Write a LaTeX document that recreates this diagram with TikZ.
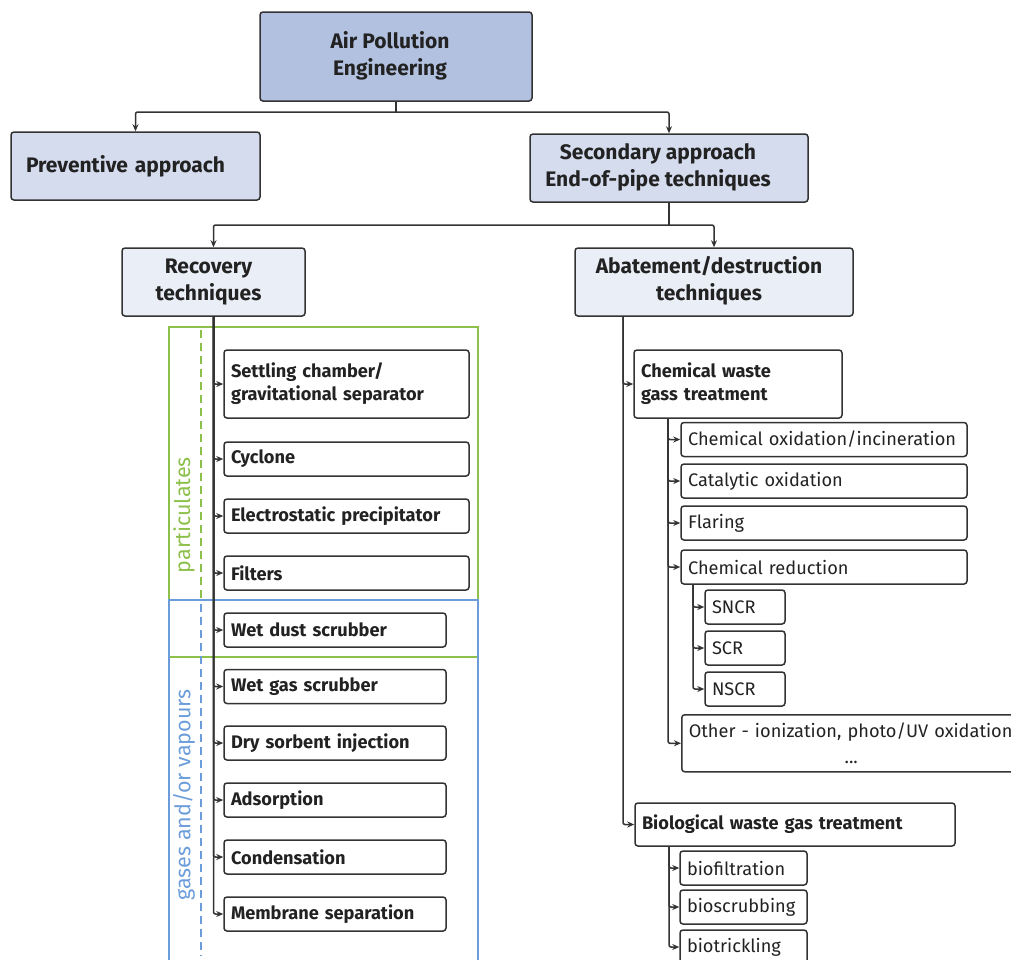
\documentclass[tikz,border=0pt]{standalone}
\usepackage{fontspec}
\setmainfont{Fira Sans}
\usetikzlibrary{arrows.meta,calc}
\definecolor{lineC}{HTML}{333333}
\definecolor{topC}{HTML}{B3C1E1}
\definecolor{midC}{HTML}{D5DCEE}
\definecolor{lowC}{HTML}{EAEEF7}
\definecolor{grn}{HTML}{8DC04B}
\definecolor{blu}{HTML}{6C9DDB}
\definecolor{txt}{HTML}{222222}
\newcommand{\twol}[3]{\begin{tabular}{@{}c@{}}#1\\#2\end{tabular}\hspace*{#3}}
\tikzset{
  box/.style={draw=lineC, line width=1.5pt, rounded corners=3pt, text=txt, inner xsep=7pt, inner ysep=0pt},
  head/.style={box, font=\fontsize{21}{27}\selectfont\bfseries, minimum height=68pt},
  itemb/.style={box, font=\fontsize{18.2}{23}\selectfont\bfseries, align=left, minimum height=34pt},
  itemr/.style={box, font=\fontsize{18.2}{26}\selectfont, align=left, minimum height=34pt},
  arr/.style={draw=lineC, line width=1.5pt, rounded corners=2pt, -{Stealth[length=7pt,width=6pt]}},
  ln/.style={draw=lineC, line width=1.5pt},
  side/.style={font=\fontsize{21.5}{24}\selectfont, rotate=90}
}
\begin{document}
\begin{tikzpicture}[x=1pt,y=-1pt]
\useasboundingbox (0,0) rectangle (1011,959);
\clip (0,0) rectangle (1011,959);
% group frames
\draw[grn, line width=1.3pt] (169,327) rectangle (478,657);
\draw[blu, line width=1.3pt] (169,600) rectangle (478,980);
\draw[grn, line width=1.3pt, dash pattern=on 8pt off 5pt] (201,330) -- (201,600);
\draw[blu, line width=1.3pt, dash pattern=on 8pt off 5pt] (201,604) -- (201,956);
\node[side, text=grn] (lpart) at (184,515) {particulates};
\node[side, text=blu] (lgas) at (184,795) {gases and/or vapours};
% top levels
\node[head, fill=topC, minimum width=272pt, minimum height=89pt] (top) at (396,56.5) {\twol{Air Pollution}{Engineering}{12pt}};
\node[head, fill=midC, minimum width=249pt, text width=219pt, align=left, inner xsep=15pt] (prev) at (135.5,166) {Preventive approach};
\node[head, fill=midC, minimum width=278pt] (sec) at (669,168) {\twol{Secondary approach}{End-of-pipe techniques}{22pt}};
\node[head, fill=lowC, minimum width=183pt] (rec) at (213.5,282) {\twol{Recovery}{techniques}{10pt}};
\node[head, fill=lowC, minimum width=278pt] (aba) at (714,282) {\twol{Abatement/destruction}{techniques}{10pt}};
\coordinate (j1) at (396,112);
\coordinate (j2) at (669,225);
\draw[ln] (top.south) -- (j1);
\draw[arr] (j1) -| (prev.north);
\draw[arr] (j1) -| (sec.north);
\draw[ln] (sec.south) -- (j2);
\draw[arr] (j2) -| (rec.north);
\draw[arr] (j2) -| (aba.north);
% recovery items
\node[itemb, text width=231pt, minimum height=68pt] (set) at (346.5,384) {Settling chamber/\\gravitational separator};
\node[itemb, text width=231pt] (cyc) at (346.5,459) {Cyclone};
\node[itemb, text width=231pt] (esp) at (346.5,516) {Electrostatic precipitator};
\node[itemb, text width=231pt] (fil) at (346.5,573) {Filters};
\node[itemb, text width=208pt] (wds) at (335,630) {Wet dust scrubber};
\node[itemb, text width=208pt] (wgs) at (335,686.5) {Wet gas scrubber};
\node[itemb, text width=208pt] (dsi) at (335,743) {Dry sorbent injection};
\node[itemb, text width=208pt] (ads) at (335,800) {Adsorption};
\node[itemb, text width=208pt] (con) at (335,857) {Condensation};
\node[itemb, text width=208pt] (mem) at (335,914) {Membrane separation};
\coordinate (rs) at (213.5,316);
\foreach \n in {set,cyc,esp,fil,wds,wgs,dsi,ads,con,mem}
  \draw[arr] (rs) |- (\n.west);
% abatement items
\node[itemb, text width=194pt, minimum height=68pt] (chem) at (738,384) {Chemical waste\\gass treatment};
\node[itemb, text width=306pt, minimum height=43pt] (bio) at (795,824.5) {Biological waste gas treatment};
\coordinate (as) at (623,316);
\draw[arr] (as) |- (chem.west);
\draw[arr] (as) |- (bio.west);
\node[itemr, text width=272pt] (cox) at (824,439.5) {Chemical oxidation/incineration};
\node[itemr, text width=272pt] (cat) at (824,481) {Catalytic oxidation};
\node[itemr, text width=272pt] (fla) at (824,523) {Flaring};
\node[itemr, text width=272pt] (red) at (824,567) {Chemical reduction};
\node[itemr, text width=325pt, minimum height=57pt, anchor=north west, inner ysep=3pt] (oth) at (681,714) {Other - ionization, photo/UV oxidation\\\makebox[\linewidth][c]{...}};
\coordinate (cs) at (668,418);
\foreach \n in {cox,cat,fla,red,oth}
  \draw[arr] (cs) |- (\n.west);
\node[itemr, text width=66pt] (sncr) at (745,607) {SNCR};
\node[itemr, text width=66pt] (scr) at (745,648) {SCR};
\node[itemr, text width=66pt] (nscr) at (745,689) {NSCR};
\coordinate (crs) at (693,584);
\foreach \n in {sncr,scr,nscr}
  \draw[arr] (crs) |- (\n.west);
\node[itemr, text width=113pt] (bf) at (743.5,868) {biofiltration};
\node[itemr, text width=113pt] (bs) at (743.5,907) {bioscrubbing};
\node[itemr, text width=113pt] (bt) at (743.5,947) {biotrickling};
\coordinate (bsp) at (669,846);
\foreach \n in {bf,bs,bt}
  \draw[arr] (bsp) |- (\n.west);
\end{tikzpicture}
\end{document}
